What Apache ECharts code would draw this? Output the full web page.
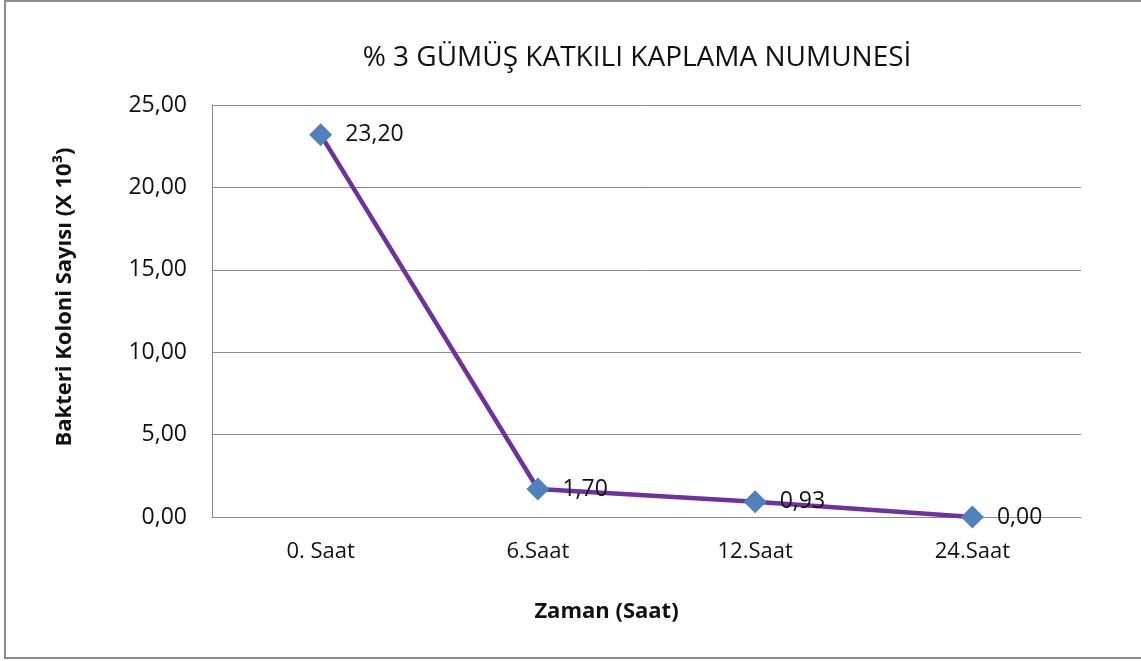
<!DOCTYPE html>
<html>
<head>
<meta charset="utf-8">
<script src="https://cdn.jsdelivr.net/npm/echarts@6/dist/echarts.min.js"></script>
<style>
  html, body { margin: 0; padding: 0; background: #fff; }
  #chart { width: 1141px; height: 661px; }
</style>
</head>
<body>
<div id="chart"></div>
<script>
// Colony counts over time for the 3% silver-doped coating sample
const categories = ['0. Saat', '6.Saat', '12.Saat', '24.Saat'];
const colonyCounts = [23.20, 1.70, 0.93, 0.00];
const yTicks = [0, 5, 10, 15, 20, 25];

const titleText = '% 3 GÜMÜŞ KATKILI KAPLAMA NUMUNESİ';
const xAxisName = 'Zaman (Saat)';
const yAxisName = 'Bakteri Koloni Sayısı (X 10³)';

const FONT = '"Open Sans", "Noto Sans", sans-serif';
const fmt = v => Number(v).toFixed(2).replace('.', ',');

const chart = echarts.init(document.getElementById('chart'), null, { renderer: 'canvas' });

chart.setOption({
  backgroundColor: '#ffffff',
  animation: false,
  textStyle: { fontFamily: FONT },
  title: {
    text: titleText,
    left: 632,
    top: 39,
    textAlign: 'center',
    textStyle: { fontFamily: FONT, fontSize: 28, fontWeight: 'normal', color: '#111111' }
  },
  graphic: [{
    type: 'rect',
    shape: { x: 5, y: 1, width: 1160, height: 657 },
    style: { fill: 'none', stroke: '#8c8c8c', lineWidth: 2 },
    silent: true
  }],
  grid: { left: 212, right: 60, top: 105, bottom: 144 },
  xAxis: {
    type: 'category',
    data: categories,
    boundaryGap: true,
    axisLine: { show: true, lineStyle: { color: '#8c8c8c', width: 1 } },
    axisTick: { show: false },
    axisLabel: { fontFamily: FONT, fontSize: 22, color: '#111111', margin: 24 },
    name: xAxisName,
    nameLocation: 'middle',
    nameGap: 84,
    nameTextStyle: { fontFamily: FONT, fontSize: 22, fontWeight: 'bold', color: '#111111', padding: [0, 80, 0, 0] }
  },
  yAxis: {
    type: 'value',
    min: yTicks[0],
    max: yTicks[yTicks.length - 1],
    interval: yTicks[1] - yTicks[0],
    axisLine: { show: true, lineStyle: { color: '#8c8c8c', width: 1 } },
    axisTick: { show: false },
    splitLine: { show: true, lineStyle: { color: '#8c8c8c', width: 1 } },
    axisLabel: { fontFamily: FONT, fontSize: 23, color: '#111111', margin: 25, formatter: fmt },
    name: yAxisName,
    nameLocation: 'middle',
    nameRotate: 90,
    nameGap: 136,
    nameTextStyle: { fontFamily: FONT, fontSize: 22, fontWeight: 'bold', color: '#111111', padding: [0, 0, 0, 28] }
  },
  series: [{
    type: 'line',
    data: colonyCounts,
    symbol: 'diamond',
    symbolSize: 23,
    lineStyle: { color: '#7030A0', width: 4.5 },
    itemStyle: { color: '#4F81BD' },
    label: {
      show: true,
      position: 'right',
      distance: 13,
      fontFamily: FONT,
      fontSize: 23,
      color: '#111111',
      formatter: p => fmt(p.value)
    },
    z: 3
  }]
});
</script>
</body>
</html>
